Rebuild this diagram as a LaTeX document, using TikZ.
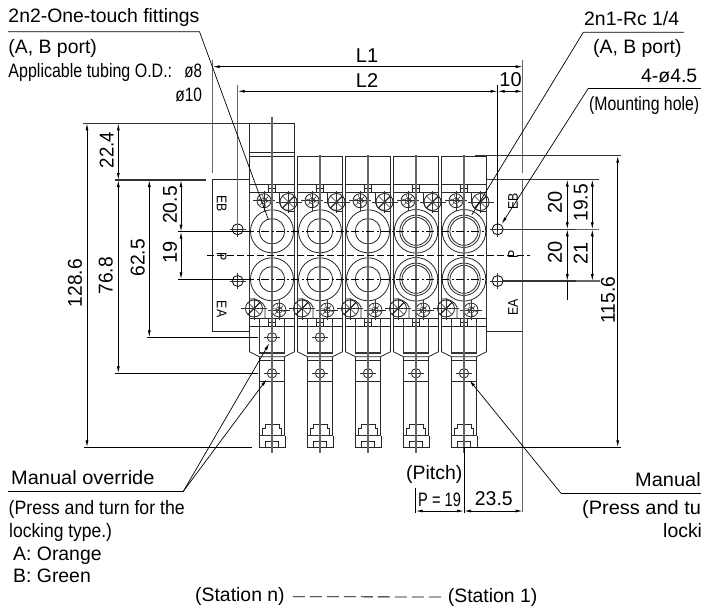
\documentclass[tikz,border=0pt]{standalone}
\usepackage{fontspec}
\usepackage{graphicx}
\setmainfont{Liberation Sans}
\usetikzlibrary{arrows.meta,calc}
\newcommand{\myt}{\fontsize{19.4}{22}\selectfont}
\newcommand{\myd}{\fontsize{20}{22}\selectfont}
\newcommand{\myp}{\fontsize{14}{15}\selectfont}
\newcommand{\sx}[2]{\scalebox{#1}[1]{#2}}
\newcommand{\smallscrew}[2]{%
  \draw[part] (#1,#2) circle[radius=7];
  \draw[cen] (#1,#2) circle[radius=3];
  \foreach \ang in {0,60,...,300} \draw[cen] (#1,#2) -- ++(\ang+15:6);
  \draw[cen] ($(#1,#2)+(-11,0)$) -- ++(22,0);
  \draw[cen] ($(#1,#2)+(0,-10)$) -- ++(0,20);}
\newcommand{\bigscrew}[2]{%
  \draw[part] (#1,#2) circle[radius=8.5];
  \draw[part,line width=1.1pt] ($(#1,#2)+(-6,6)$) -- ($(#1,#2)+(6,-6)$);
  \draw[cen] ($(#1,#2)+(-6,-6)$) -- ($(#1,#2)+(6,6)$);
  \draw[cen] ($(#1,#2)+(-13,0)$) -- ++(26,0);
  \draw[cen] ($(#1,#2)+(0,-11)$) -- ++(0,22);}
\tikzset{
  part/.style={line width=.8pt,black!85},
  heavy/.style={line width=1.25pt,black!80},
  cen/.style={line width=.5pt,black!80},
  gl/.style={line width=1.3pt,black!60},
  thin/.style={line width=.8pt,black},
  dimline/.style={line width=.8pt,black,{Latex[length=7pt,width=3pt]}-{Latex[length=7pt,width=3pt]}},
  lead/.style={line width=.7pt,black},
  leadarrow/.style={line width=.7pt,black,-{Latex[length=7pt,width=3pt]}},
  tx/.style={inner sep=0pt,anchor=base west,font=\myt},
  txr/.style={inner sep=0pt,anchor=base east,font=\myt},
  dt/.style={inner sep=0pt,font=\myd},
  vdt/.style={inner sep=0pt,font=\myd,rotate=90},
  pl/.style={inner sep=0pt,font=\myp},
}
\begin{document}
\begin{tikzpicture}[x=1pt,y=-1pt]
\useasboundingbox (0,0) rectangle (701,610);
% end plates
\draw[part] (249.7,179.5) -- (212.7,179.5) -- (212.7,331) -- (249.7,331);
\draw[gl] (522.7,180) -- (522.7,512);
\draw[part] (487,331) -- (522.7,331);
% stations
\foreach \x in {272,320,368,416,464}{
  % valve top
  \draw[part] (\x-22.5,184) -- (\x-22.5,156) -- (\x+22.5,156) -- (\x+22.5,184);
  \draw[part] (\x-22.5,184) rectangle (\x+22.5,192.7);
  \draw[part] (\x-3.5,184) rectangle (\x+3.5,192.7);
  \draw[part] (\x-3.5,188.3) -- (\x+3.5,188.3);
  % body
  \draw[heavy] (\x-22.5,192.7) -- (\x-22.5,318);
  \draw[heavy] (\x+22.5,192.7) -- (\x+22.5,318);
  \draw[part] (\x+7.5,192.7) -- (\x+7.5,203) .. controls (\x+9,209) and (\x+15,212.5) .. (\x+22.5,211.5);
  \draw[part] (\x-7,318) -- (\x-7,307) .. controls (\x-9,302) and (\x-15,298) .. (\x-22.5,299);
  % screws
  \smallscrew{\x-8}{200.7}
  \bigscrew{\x+16.5}{202}
  \bigscrew{\x-18}{308.5}
  \smallscrew{\x+7}{310}
  % manual override block
  \draw[part] (\x-22.5,318) rectangle (\x+22.5,326);
  \draw[part] (\x-3.5,318) rectangle (\x+3.5,326);
  \draw[part] (\x-3.5,322) -- (\x+3.5,322);
  \draw[part] (\x-22.5,326) -- (\x-22.5,351.7) -- (\x-12.5,356.7) -- (\x+12.5,356.7) -- (\x+22.5,351.7) -- (\x+22.5,326);
  \draw[heavy] (\x-12.5,318) -- (\x-12.5,353) -- (\x+12.5,353) -- (\x+12.5,318);
  \draw[part] (\x-12.5,356.7) -- (\x-12.5,436);
  \draw[part] (\x+12.5,356.7) -- (\x+12.5,436);
  \draw[part] (\x-12.5,360) -- (\x+12.5,360);
  \draw[part] (\x-12.5,381.7) -- (\x+12.5,381.7);
  \draw[part] (\x,373.3) circle[radius=4.7];
  \draw[cen] (\x-8,373.3) -- (\x+8,373.3);
  % tab
  \draw[part] (\x-9.5,435.5) -- (\x-9.5,428.7) -- (\x-7,428.7) -- (\x-7,424) -- (\x+7.3,424) -- (\x+7.3,428.7) -- (\x+9.5,428.7) -- (\x+9.5,435.5);
  \draw[heavy] (\x-13,435.7) -- (\x+13,435.7);
  \draw[part] (\x-13,435.7) -- (\x-13,447.7) -- (\x+13,447.7) -- (\x+13,435.7);
  \draw[part] (\x-6.3,447.7) -- (\x-6.3,441) -- (\x+6.3,441) -- (\x+6.3,447.7);
  % centre line
  \draw[heavy] (\x,320) -- (\x,360);
}
% first two stations have a second manual override circle
\foreach \x in {272,320}{
  \draw[part] (\x,337.3) circle[radius=4.7];
  \draw[cen] (\x-8,337.3) -- (\x+8,337.3);
}
% ports
\foreach \x in {272,320,368}{
  \foreach \y in {231.3,279.3}{
    \draw[part] (\x,\y) circle[radius=21.5];
    \draw[part] (\x,\y) circle[radius=12.7];
  }
}
\foreach \x in {416,464}{
  \foreach \y in {231.3,279.3}{
    \draw[part] (\x,\y) circle[radius=21.8];
    \draw[part] (\x,\y) circle[radius=16.2];
    \draw[part] (\x,\y) circle[radius=14];
  }
}
% first valve is taller
\draw[part] (249.7,184) -- (249.7,123.3) -- (294.7,123.3) -- (294.7,184);
\draw[part] (249.7,152) -- (294.7,152);
% vertical centre lines
\draw[gl] (272,117) -- (272,453);
\foreach \x in {320,368,416,464} \draw[gl] (\x,155) -- (\x,453);
% horizontal centre lines
\draw[thin,dash pattern=on 8pt off 2.5pt on 2pt off 2.5pt] (246,231.3) -- (487,231.3);
\draw[thin,dash pattern=on 8pt off 2.5pt on 2pt off 2.5pt] (246,279.3) -- (487,279.3);
\draw[thin,dash pattern=on 6.5pt off 3.5pt] (207,255.3) -- (530,255.3);
% mounting holes
\foreach \x/\y/\n in {237.7/229.3/hl,237.7/281/hm,497.7/229.3/hr,497.7/281/hs}{
  \node[circle,draw,line width=.8pt,minimum size=11pt,inner sep=0pt] (\n) at (\x,\y) {};
  \draw[cen] (\x-8,\y) -- (\x+8,\y);
  \draw[cen] (\x,\y-8) -- (\x,\y+8);
}
% extension lines
\draw[gl] (212.7,60) -- (212.7,172.7);
\draw[gl] (522.7,60) -- (522.7,172.7);
\draw[gl] (237.7,85) -- (237.7,229);
\draw[thin] (497.7,85) -- (497.7,229);
\draw[heavy] (83,123.3) -- (249.7,123.3);
\draw[heavy] (115,180) -- (206,180);
\draw[heavy] (487,179.5) -- (599.3,179.5);
\draw[heavy] (475,155.7) -- (621,155.7);
\draw[thin] (147.3,337.3) -- (258,337.3);
\draw[thin] (115,373.3) -- (258,373.3);
\draw[thin] (84,447.3) -- (252,447.3);
\draw[thin] (463,447.3) -- (620.7,447.3);
\draw[thin] (178.3,231.7) -- (248,231.7);
\draw[thin] (178.3,279.3) -- (248,279.3);
\draw[heavy] (502,229.3) -- (576,229.3);
\draw[gl] (576,229.3) -- (599.3,229.3);
\draw[heavy] (502,281) -- (576,281);
\draw[gl] (576,281) -- (600,281);
\draw[thin] (415.7,488) -- (415.7,513);
\draw[thin] (464,447) -- (464,513);
% dimension lines
\draw[dimline] (212.7,66.7) -- (522.7,66.7);
\draw[dimline] (237.7,91.3) -- (497.7,91.3);
\draw[dimline] (497.7,91.3) -- (522.7,91.3);
\draw[dimline] (118.3,123.3) -- (118.3,180);
\draw[dimline] (87,123.3) -- (87,447.3);
\draw[dimline] (118.3,180) -- (118.3,373.3);
\draw[dimline] (149.3,180) -- (149.3,337.3);
\draw[dimline] (181,180) -- (181,231.7);
\draw[dimline] (181,231.7) -- (181,279.3);
\draw[dimline] (567.3,179.5) -- (567.3,229.3);
\draw[dimline] (567.3,229.3) -- (567.3,281);
\draw[thin] (567.3,281) -- (567.3,300);
\draw[dimline] (592.3,179.5) -- (592.3,229.3);
\draw[dimline] (592.3,229.3) -- (592.3,281);
\draw[dimline] (617.7,155.7) -- (617.7,447.3);
\draw[dimline] (415.7,511) -- (464,511);
\draw[dimline] (464,511) -- (522.7,511);
% dimension texts
\node[dt] (tL1) at (367,55.5) {L1};
\node[dt] (tL2) at (367,80.5) {L2};
\node[dt] (t10) at (510.5,80) {10};
\node[vdt] (t224) at (106.7,150) {\sx{.93}{22.4}};
\node[vdt] (t1286) at (75,283.3) {\sx{.96}{128.6}};
\node[vdt] (t768) at (105.7,275.7) {\sx{.96}{76.8}};
\node[vdt] (t625) at (137.7,257.7) {\sx{.96}{62.5}};
\node[vdt] (t205) at (170,205) {\sx{.96}{20.5}};
\node[vdt] (t19) at (170,252.3) {19};
\node[vdt] (t20a) at (555,202.7) {20};
\node[vdt] (t195) at (580.7,202.7) {\sx{.96}{19.5}};
\node[vdt] (t20b) at (555,252.7) {20};
\node[vdt] (t21) at (580.7,253.3) {21};
\node[vdt] (t1156) at (608,300) {\sx{.96}{115.6}};
\node[dt] (t235) at (493.8,499) {\sx{.97}{23.5}};
\node[tx] (tP) at (418,506) {\sx{.755}{P = 19}};
\node[tx] (tPitch) at (406,479.3) {(Pitch)};
% plate labels
\node[pl,rotate=-90] (eb1) at (221.7,203.3) {\sx{.88}{EB}};
\node[pl,rotate=-90] (p1) at (221.7,257) {\sx{.88}{P}};
\node[pl,rotate=-90] (ea1) at (221.7,309) {\sx{.88}{EA}};
\node[pl,rotate=90] (eb2) at (513,201.7) {\sx{.88}{EB}};
\node[pl,rotate=90] (p2) at (513,254) {\sx{.88}{P}};
\node[pl,rotate=90] (ea2) at (513,307) {\sx{.88}{EA}};
% top left label
\node[tx] (a1) at (8.3,22.7) {2n2-One-touch fittings};
\node[tx] (a2) at (8.3,53.5) {(A, B port)};
\node[tx] (a3) at (8.3,77.3) {\sx{.825}{Applicable tubing O.D.:}};
\node[txr] (a4) at (202.3,77.3) {\sx{.78}{ø8}};
\node[txr] (a5) at (202.3,101) {\sx{.8}{ø10}};
\coordinate (a0) at (8,31.7);
\coordinate (a6) at (199.5,31.7);
\coordinate (a7) at (268.3,219.3);
\draw[lead] (a0) -- (a6) -- (a7);
% top right labels
\node[tx] (b1) at (584,26) {2n1-Rc 1/4};
\node[tx] (b2) at (593,53.3) {(A, B port)};
\node[tx] (b3) at (641,82.7) {4-ø4.5};
\node[tx] (b4) at (589,110) {\sx{.816}{(Mounting hole)}};
\coordinate (b5) at (684,32.3);
\coordinate (b6) at (583.3,32.3);
\coordinate (b7) at (471.7,215);
\draw[lead] (b5) -- (b6) -- (b7);
\coordinate (c5) at (701,88.3);
\coordinate (c6) at (588.3,88.3);
\draw[lead] (c5) -- (c6);
\draw[leadarrow] (c6) -- (501.7,224);
% manual override left
\node[tx] (m1) at (11,484.3) {\sx{1.03}{Manual override}};
\node[tx] (m2) at (8.5,514) {\sx{.912}{(Press and turn for the}};
\node[tx] (m3) at (9,537.3) {\sx{.9}{locking type.)}};
\node[tx] (m4) at (13,560) {A: Orange};
\node[tx] (m5) at (13,582.3) {B: Green};
\coordinate (m6) at (8,491);
\coordinate (m7) at (183.5,491);
\draw[lead] (m6) -- (m7);
\draw[leadarrow] (m7) -- (269.3,343.3);
\draw[leadarrow] (m7) -- (266.7,379.3);
% manual override right
\node[tx] (n1) at (635,486.7) {\sx{1.03}{Manual}};
\node[tx] (n2) at (582,514) {\sx{1.03}{(Press and tu}};
\node[tx] (n3) at (663,537.7) {locki};
\coordinate (n6) at (701,493.3);
\coordinate (n7) at (561,493.3);
\draw[lead] (n6) -- (n7);
\draw[leadarrow] (n7) -- (469.3,380);
% stations
\node[tx] (s1) at (195,601.7) {(Station n)};
\node[tx] (s2) at (447.7,602) {(Station 1)};
\coordinate (s3) at ($(s1.base east)+(8,-5)$);
\coordinate (s4) at ($(s2.base west)+(-5,-5)$);
\draw[thin,dash pattern=on 12pt off 5pt] (s3) -- (s4);
\end{tikzpicture}
\end{document}
